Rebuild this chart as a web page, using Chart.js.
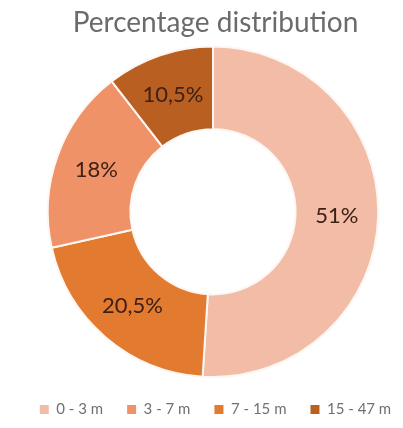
<!DOCTYPE html>
<html>
<head>
<meta charset="utf-8">
<script src="https://cdn.jsdelivr.net/npm/chart.js@4"></script>
<style>
  body{margin:0;background:#fff;}
  #wrap{width:403px;height:428px;}
</style>
</head>
<body>
<div id="wrap"><canvas id="donut"></canvas></div>
<script>
// slices in drawing order (clockwise from the top)
const categories=["0 - 3 m","7 - 15 m","3 - 7 m","15 - 47 m"];
const percents=[51,20.5,18,10.5];
const sliceColors=["#F3BCA6","#E27A2F","#F09268","#BA5F22"];

// legend lists the depth classes in ascending order
const legendOrder=[0,2,1,3];

const labelPlugin={
    id:"sliceLabels",
    afterDatasetsDraw(chart){
        const ctx=chart.ctx;
        const meta=chart.getDatasetMeta(0);
        ctx.save();
        ctx.font="22px Lato, 'Liberation Sans', sans-serif";
        ctx.fillStyle="#3d2016";
        ctx.textAlign="center";
        ctx.textBaseline="middle";
        meta.data.forEach((arc,i)=>{
            const p=arc.tooltipPosition();
            const txt=String(percents[i]).replace(".",",")+"%";
            ctx.fillText(txt,p.x,p.y);
        });
        ctx.restore();
    }
};

// nudge the ring a few px right of the layout centre
const shiftPlugin={
    id:"shiftRing",
    afterLayout(chart){
        chart.chartArea.left+=4.5;
        chart.chartArea.right+=4.5;
    }
};

const ctx=document.getElementById("donut").getContext("2d");
new Chart(ctx,{
    type:"doughnut",
    data:{
        labels:categories,
        datasets:[{
            data:percents,
            backgroundColor:sliceColors,
            borderColor:"#fdf6f2",
            borderWidth:2
        }]
    },
    options:{
        responsive:true,
        maintainAspectRatio:false,
        animation:false,
        cutout:"50%",
        layout:{padding:{top:6,bottom:1,left:14,right:-14}},
        plugins:{
            title:{
                display:true,
                text:"Percentage distribution",
                color:"#6b6b6b",
                font:{size:28,family:"Lato, 'Liberation Sans', sans-serif",weight:"normal"},
                padding:{top:0,bottom:6}
            },
            legend:{
                position:"bottom",
                labels:{
                    boxWidth:9,
                    boxHeight:9,
                    color:"#707070",
                    font:{size:15,family:"Lato, 'Liberation Sans', sans-serif"},
                    padding:24,
                    sort:(a,b)=>legendOrder.indexOf(a.index)-legendOrder.indexOf(b.index),
                    generateLabels(chart){
                        const ds=chart.data.datasets[0];
                        return chart.data.labels.map((l,i)=>({
                            text:l,
                            fillStyle:ds.backgroundColor[i],
                            strokeStyle:ds.backgroundColor[i],
                            lineWidth:0,
                            index:i,
                            fontColor:"#707070"
                        }));
                    }
                }
            },
            tooltip:{enabled:false}
        }
    },
    plugins:[labelPlugin,shiftPlugin]
});
</script>
</body>
</html>
